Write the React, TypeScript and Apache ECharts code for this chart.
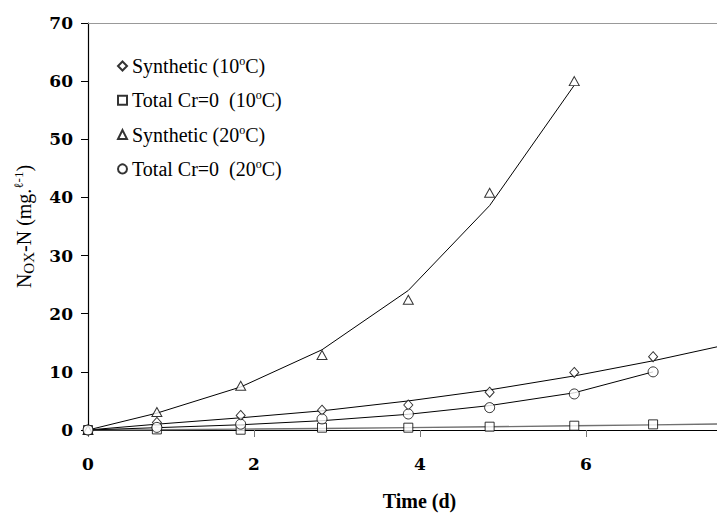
import React, { useEffect, useRef } from "react";
import * as echarts from "echarts";

// Measured days
const days = [0, 0.83, 1.84, 2.82, 3.86, 4.84, 5.86, 6.81];
// Measured NOx-N values (mg/l)
const synth10 = [0, 1.3, 2.5, 3.4, 4.3, 6.5, 9.9, 12.6];
const total10 = [0, 0.1, 0.05, 0.4, 0.4, 0.57, 0.74, 0.97];
const synth20 = [0, 3.1, 7.6, 12.9, 22.4, 40.8, 60.0];
const total20 = [0, 0.45, 1.0, 1.9, 2.75, 3.85, 6.2, 10.0];

// Model (fitted) curves
const fitDays = [0, 0.83, 1.84, 2.82, 3.86, 4.84, 5.86, 6.81, 7.58];
const fitSynth10 = [0, 1.0, 2.1, 3.3, 5.0, 6.9, 9.3, 11.9, 14.3];
const fitTotal10 = [0, 0.05, 0.15, 0.25, 0.4, 0.55, 0.72, 0.88, 1.03];
const fitSynth20 = [0, 2.9, 7.4, 13.8, 24.0, 38.6, 59.3];
const fitTotal20 = [0, 0.4, 0.9, 1.6, 2.7, 4.2, 6.4, 10.0];

const legendNames = [
  "Synthetic (10°C)",
  "Total Cr=0  (10°C)",
  "Synthetic (20°C)",
  "Total Cr=0  (20°C)",
];
const legendRich: Record<string, string> = {
  "Synthetic (10°C)": "{t|Synthetic (10}{s|o}{t|C)}",
  "Total Cr=0  (10°C)": "{t|Total Cr=0  (10}{s|o}{t|C)}",
  "Synthetic (20°C)": "{t|Synthetic (20}{s|o}{t|C)}",
  "Total Cr=0  (20°C)": "{t|Total Cr=0  (20}{s|o}{t|C)}",
};

const FONT = "Times New Roman";
const FONT2 = "DejaVu Serif";

const pairs = (xs: number[], ys: number[]) => ys.map((y, i) => [xs[i], y]);

export default function App() {
  const ref = useRef<HTMLDivElement>(null);
  useEffect(() => {
    if (!ref.current) return;
    const chart = echarts.init(ref.current, null, { renderer: "svg" });
    const hollow = { color: "#ffffff", borderColor: "#000000", borderWidth: 1 };
    const fitLine = (name: string, xs: number[], ys: number[], color = "#000", width = 1) => ({
      name,
      type: "line",
      data: pairs(xs, ys),
      showSymbol: false,
      symbol: "none",
      lineStyle: { color, width },
      z: 1,
      silent: true,
    });
    const pts = (name: string, ys: number[], symbol: string, size: any) => ({
      name,
      type: "scatter",
      data: pairs(days, ys),
      symbol,
      symbolSize: size,
      itemStyle: hollow,
      z: 3,
    });
    chart.setOption({
      animation: false,
      backgroundColor: "#ffffff",
      textStyle: { fontFamily: FONT },
      grid: {
        left: 88,
        right: 0,
        top: 23,
        bottom: 83,
        containLabel: false,
        outerBoundsMode: "none",
      },
      legend: {
        data: legendNames,
        orient: "vertical",
        left: 117,
        top: 55,
        padding: 0,
        itemWidth: 9,
        itemHeight: 9,
        itemGap: 13.3,
        selectedMode: false,
        formatter: (n: string) => legendRich[n] || n,
        textStyle: {
          fontFamily: FONT,
          rich: {
            t: { fontFamily: FONT, fontSize: 20, color: "#000", lineHeight: 22 },
            s: { fontFamily: FONT, fontSize: 12, color: "#000", verticalAlign: "top" },
          },
        },
      },
      xAxis: [
        {
          type: "value",
          min: 0,
          max: 7.58,
          interval: 2,
          name: "Time (d)",
          nameLocation: "middle",
          nameGap: 61,
          nameTextStyle: {
            fontFamily: FONT,
            fontSize: 20,
            fontWeight: "bold",
            color: "#000",
            lineHeight: 20,
            padding: [0, 0, 0, 34],
          },
          axisLine: { show: true, onZero: true, lineStyle: { color: "#000", width: 1.2 } },
          axisTick: { show: true, length: 7, lineStyle: { color: "#777" } },
          axisLabel: {
            fontFamily: FONT2,
            fontSize: 17,
            fontWeight: "bold",
            color: "#000",
            margin: 25,
            showMaxLabel: false,
          },
          splitLine: { show: false },
        },
        {
          type: "value",
          position: "top",
          min: 0,
          max: 7.58,
          axisLine: { show: true, lineStyle: { color: "#999", width: 1 } },
          axisTick: { show: false },
          axisLabel: { show: false },
          splitLine: { show: false },
        },
      ],
      yAxis: {
        type: "value",
        min: 0,
        max: 70,
        interval: 10,
        name: "{n|N}{c|OX}{n|-N (mg.}{p|ℓ-1}{n|)}",
        nameLocation: "middle",
        nameGap: 52,
        nameTextStyle: {
          fontFamily: FONT,
          rich: {
            n: { fontFamily: FONT, fontSize: 20, color: "#000", lineHeight: 24 },
            c: { fontFamily: FONT, fontSize: 15, color: "#000", verticalAlign: "bottom", lineHeight: 20 },
            p: { fontFamily: FONT, fontSize: 13, color: "#000", verticalAlign: "top" },
          },
        },
        axisLine: { show: true, onZero: false, lineStyle: { color: "#000", width: 1.2 } },
        axisTick: { show: true, length: 7, lineStyle: { color: "#000" } },
        axisLabel: {
          fontFamily: FONT2,
          fontSize: 17,
          fontWeight: "bold",
          color: "#000",
          margin: 15,
        },
        splitLine: { show: false },
      },
      series: [
        fitLine("fit10s", fitDays, fitSynth10),
        fitLine("fit10t", fitDays, fitTotal10, "#707070", 1.4),
        fitLine("fit20s", fitDays, fitSynth20),
        fitLine("fit20t", fitDays, fitTotal20),
        pts(legendNames[0], synth10, "diamond", [9, 10]),
        pts(legendNames[1], total10, "rect", 9),
        pts(legendNames[2], synth20, "triangle", [10, 9]),
        pts(legendNames[3], total20, "circle", 10),
      ],
    });
    return () => chart.dispose();
  }, []);
  return (
    <div
      ref={ref}
      style={{ position: "fixed", left: 0, top: 0, width: 717, height: 513, background: "#fff" }}
    />
  );
}
